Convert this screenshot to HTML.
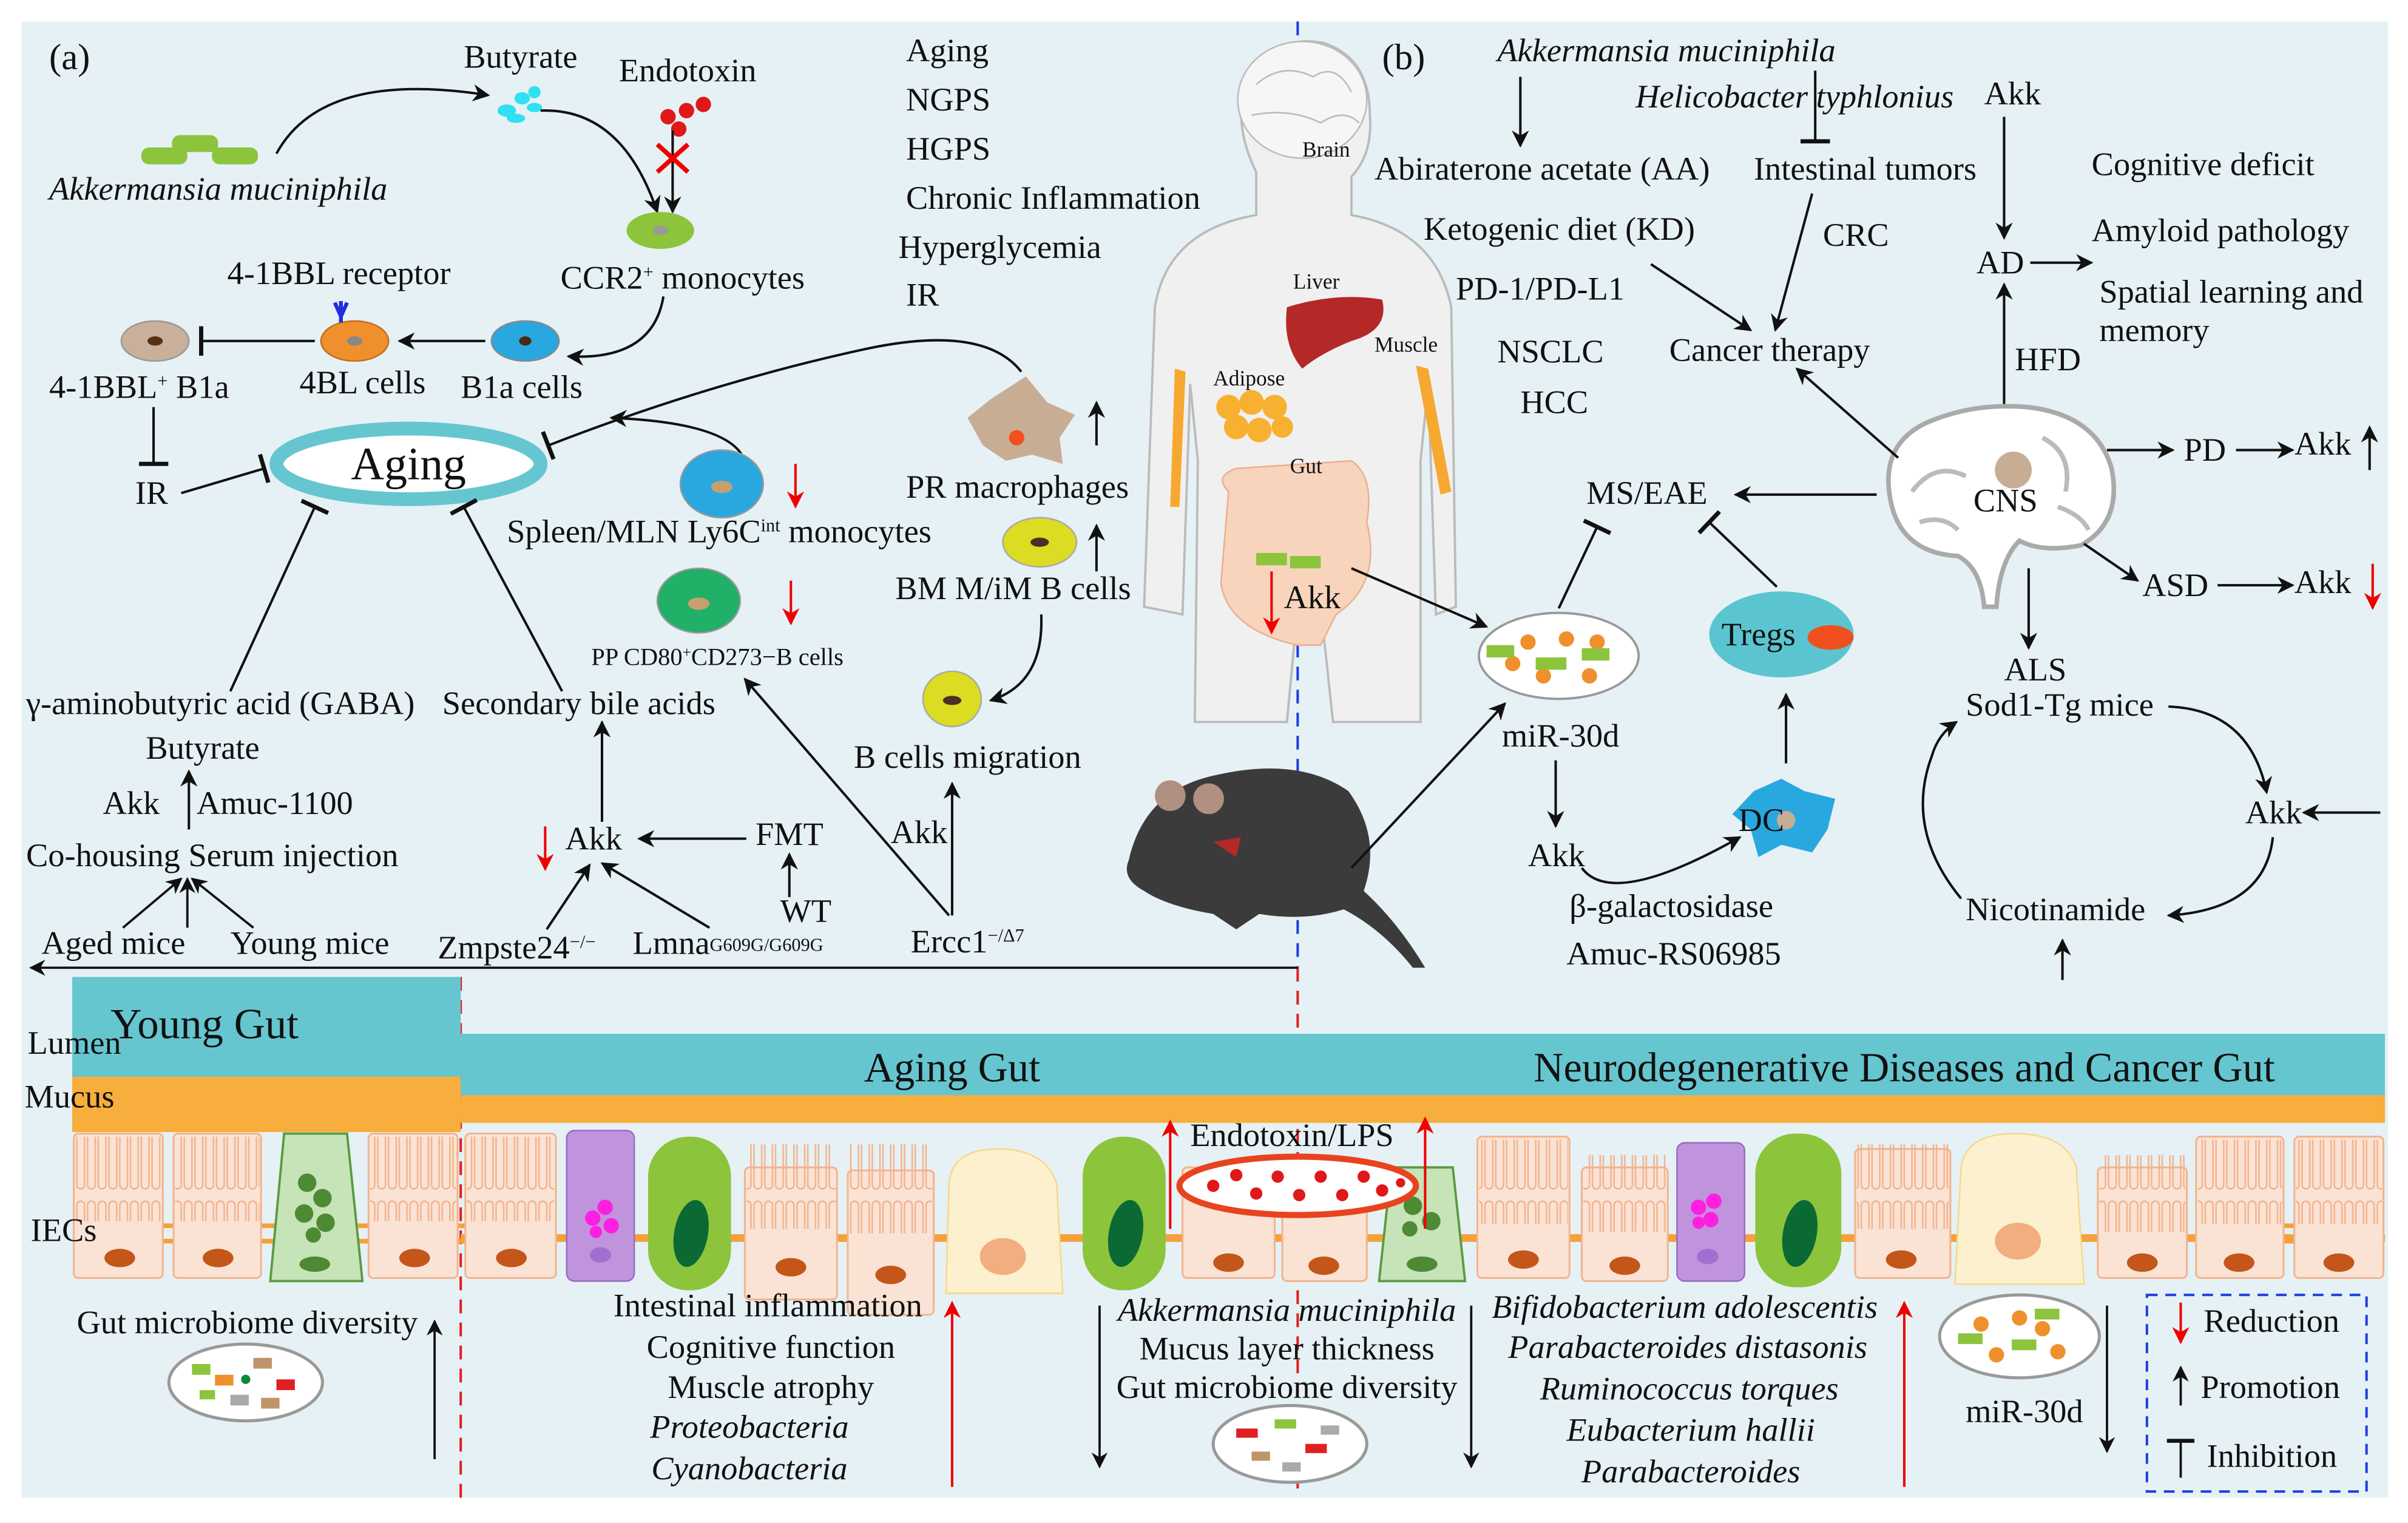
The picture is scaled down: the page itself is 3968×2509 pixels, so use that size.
<!DOCTYPE html>
<html><head><meta charset="utf-8"><style>
html,body{margin:0;padding:0;background:#fff;}
svg{display:block;}
text{font-family:"Liberation Serif",serif;font-size:21.5px;fill:#111;}
.i{font-style:italic;}
</style></head><body>
<svg width="3968" height="2509" viewBox="0 0 1568 991.5" preserveAspectRatio="none" xmlns="http://www.w3.org/2000/svg">
<defs>
<marker id="a" viewBox="0 0 10 10" refX="9" refY="5" markerWidth="7" markerHeight="7" orient="auto-start-reverse"><path d="M0,0 L10,5 L0,10 L3,5z" fill="#111"/></marker>
<marker id="r" viewBox="0 0 10 10" refX="9" refY="5" markerWidth="7" markerHeight="7" orient="auto"><path d="M0,0 L10,5 L0,10 L3,5z" fill="#e00"/></marker>
<marker id="t" viewBox="0 0 4 14" refX="2" refY="7" markerWidth="4" markerHeight="12" orient="auto"><path d="M2,0 L2,14" stroke="#111" stroke-width="2"/></marker>
<pattern id="mv" width="7" height="60" patternUnits="userSpaceOnUse"><rect x="1" y="2" width="5" height="52" rx="2.5" fill="none" stroke="#f2b48e" stroke-width="1"/></pattern>
</defs>
<rect x="14" y="14" width="1541" height="961" fill="#e6f1f5"/>

<line x1="845" y1="14" x2="845" y2="630" stroke="#1f3de0" stroke-width="1.6" stroke-dasharray="9,6"/>
<line x1="845" y1="630" x2="845" y2="975" stroke="#e02020" stroke-width="1.6" stroke-dasharray="9,6"/>
<line x1="300" y1="636" x2="300" y2="975" stroke="#e02020" stroke-width="1.6" stroke-dasharray="9,6"/>
<line x1="845" y1="630" x2="20" y2="630" stroke="#111" stroke-width="1.5" marker-end="url(#a)"/>

<rect x="47" y="636" width="253" height="66" fill="#66c6d0"/>
<rect x="47" y="701" width="253" height="36" fill="#f8ae3c"/>
<rect x="300" y="673" width="1253" height="41" fill="#66c6d0"/>
<rect x="300" y="713" width="1253" height="18" fill="#f8ae3c"/>

<line x1="300" y1="806" x2="1553" y2="806" stroke="#f5a03a" stroke-width="5"/>
<g stroke="#f5a03a" stroke-width="3">
<line x1="104" y1="798" x2="118" y2="798"/><line x1="104" y1="808" x2="118" y2="808"/>
<line x1="166" y1="798" x2="180" y2="798"/><line x1="166" y1="808" x2="180" y2="808"/>
<line x1="230" y1="798" x2="244" y2="798"/><line x1="230" y1="808" x2="244" y2="808"/>
<line x1="292" y1="798" x2="306" y2="798"/><line x1="292" y1="808" x2="306" y2="808"/>
<line x1="1482" y1="798" x2="1500" y2="798"/><line x1="1482" y1="808" x2="1500" y2="808"/>
</g>

<g fill="#fae3d5" stroke="#f2b48e" stroke-width="1.2">
<rect x="48" y="738" width="58" height="94" rx="3"/><rect x="113" y="738" width="57" height="94" rx="3"/>
<rect x="240" y="738" width="58" height="94" rx="3"/><rect x="303" y="738" width="59" height="94" rx="3"/>
<rect x="485" y="760" width="60" height="86" rx="3"/><rect x="552" y="762" width="56" height="94" rx="3"/>
<rect x="770" y="760" width="60" height="72" rx="3"/><rect x="835" y="760" width="55" height="74" rx="3"/>
<rect x="962" y="740" width="60" height="92" rx="3"/><rect x="1030" y="760" width="56" height="74" rx="3"/>
<rect x="1208" y="748" width="62" height="84" rx="3"/><rect x="1366" y="760" width="58" height="72" rx="3"/>
<rect x="1430" y="740" width="57" height="92" rx="3"/><rect x="1494" y="740" width="58" height="92" rx="3"/>
</g>
<g fill="url(#mv)">
<rect x="49" y="740" width="56" height="55"/><rect x="114" y="740" width="55" height="55"/>
<rect x="241" y="740" width="56" height="55"/><rect x="304" y="740" width="57" height="55"/>
<rect x="486" y="745" width="58" height="55"/><rect x="553" y="745" width="54" height="58"/>
<rect x="963" y="742" width="58" height="55"/><rect x="1031" y="752" width="54" height="50"/>
<rect x="1209" y="745" width="60" height="55"/><rect x="1367" y="752" width="56" height="50"/>
<rect x="1431" y="742" width="55" height="55"/><rect x="1495" y="742" width="56" height="55"/>
</g>
<g fill="#c4561a">
<ellipse cx="78" cy="819" rx="10" ry="6"/><ellipse cx="142" cy="819" rx="10" ry="6"/>
<ellipse cx="270" cy="819" rx="10" ry="6"/><ellipse cx="333" cy="819" rx="10" ry="6"/>
<ellipse cx="515" cy="825" rx="10" ry="6"/><ellipse cx="580" cy="830" rx="10" ry="6"/>
<ellipse cx="800" cy="822" rx="10" ry="6"/><ellipse cx="862" cy="824" rx="10" ry="6"/>
<ellipse cx="992" cy="820" rx="10" ry="6"/><ellipse cx="1058" cy="824" rx="10" ry="6"/>
<ellipse cx="1238" cy="820" rx="10" ry="6"/><ellipse cx="1395" cy="822" rx="10" ry="6"/>
<ellipse cx="1458" cy="822" rx="10" ry="6"/><ellipse cx="1523" cy="822" rx="10" ry="6"/>
</g>
<path d="M185,738 L226,738 L236,834 L176,834z" fill="#c7e3b8" stroke="#5a9a40" stroke-width="1.5"/>
<g fill="#4e8a34"><circle cx="200" cy="770" r="6"/><circle cx="210" cy="780" r="6"/><circle cx="198" cy="790" r="6"/><circle cx="212" cy="796" r="6"/><circle cx="204" cy="804" r="5"/><ellipse cx="205" cy="823" rx="10" ry="5"/></g>
<rect x="369" y="736" width="44" height="98" rx="5" fill="#bf94dd" stroke="#9a6cc0"/>
<g fill="#ff1fe0"><circle cx="386" cy="793" r="5"/><circle cx="394" cy="786" r="5"/><circle cx="398" cy="798" r="5"/><circle cx="388" cy="802" r="4"/></g>
<ellipse cx="391" cy="817" rx="7" ry="5" fill="#a070d0"/>
<rect x="422" y="740" width="54" height="100" rx="26" fill="#8cc43c"/>
<ellipse cx="450" cy="803" rx="11" ry="22" fill="#0b6a34" transform="rotate(10 450 803)"/>
<path d="M618,770 Q620,748 650,748 Q680,748 688,770 L692,842 L616,842z" fill="#fdf0cf" stroke="#f5d98a"/>
<ellipse cx="653" cy="818" rx="15" ry="12" fill="#f2ae7f"/>
<rect x="705" y="740" width="54" height="100" rx="26" fill="#8cc43c"/>
<ellipse cx="733" cy="803" rx="11" ry="22" fill="#0b6a34" transform="rotate(10 733 803)"/>
<path d="M906,760 L946,760 L954,834 L898,834z" fill="#c7e3b8" stroke="#5a9a40" stroke-width="1.5"/>
<g fill="#4e8a34"><circle cx="920" cy="785" r="6"/><circle cx="932" cy="795" r="6"/><circle cx="918" cy="800" r="5"/><ellipse cx="926" cy="823" rx="10" ry="5"/></g>
<rect x="1092" y="744" width="44" height="90" rx="5" fill="#bf94dd" stroke="#9a6cc0"/>
<g fill="#ff1fe0"><circle cx="1106" cy="786" r="5"/><circle cx="1116" cy="782" r="5"/><circle cx="1114" cy="794" r="5"/><circle cx="1106" cy="796" r="4"/></g>
<ellipse cx="1112" cy="818" rx="7" ry="5" fill="#a070d0"/>
<rect x="1143" y="738" width="56" height="100" rx="26" fill="#8cc43c"/>
<ellipse cx="1172" cy="803" rx="11" ry="22" fill="#0b6a34" transform="rotate(10 1172 803)"/>
<path d="M1277,760 Q1280,738 1312,738 Q1345,738 1352,760 L1357,836 L1273,836z" fill="#fdf0cf" stroke="#f5d98a"/>
<ellipse cx="1314" cy="808" rx="15" ry="12" fill="#f2ae7f"/>
<ellipse cx="845" cy="772" rx="77" ry="19" fill="#fff" stroke="#e8431e" stroke-width="4"/>
<g fill="#e01818"><circle cx="790" cy="772" r="4"/><circle cx="805" cy="765" r="4"/><circle cx="818" cy="777" r="4"/><circle cx="832" cy="766" r="4"/><circle cx="846" cy="778" r="4"/><circle cx="860" cy="766" r="4"/><circle cx="874" cy="778" r="4"/><circle cx="888" cy="766" r="4"/><circle cx="900" cy="775" r="4"/><circle cx="912" cy="770" r="3"/></g>
<text x="775" y="746">Endotoxin/LPS</text>
<line x1="762" y1="800" x2="762" y2="730" stroke="#e00" stroke-width="1.6" marker-end="url(#r)"/>
<line x1="928" y1="800" x2="928" y2="728" stroke="#e00" stroke-width="1.6" marker-end="url(#r)"/>

<text x="18" y="686">Lumen</text>
<text x="16" y="721">Mucus</text>
<text x="20" y="808">IECs</text>
<text x="72" y="676" style="font-size:28px">Young Gut</text>
<text x="620" y="704" text-anchor="middle" style="font-size:27px">Aging Gut</text>
<text x="1240" y="704" text-anchor="middle" style="font-size:27px">Neurodegenerative Diseases and Cancer Gut</text>

<text x="50" y="868">Gut microbiome diversity</text>
<line x1="283" y1="950" x2="283" y2="860" stroke="#111" stroke-width="1.5" marker-end="url(#a)"/>
<ellipse cx="160" cy="900" rx="50" ry="25" fill="#fff" stroke="#999" stroke-width="2"/>
<g><rect x="125" y="888" width="12" height="7" fill="#8cc43c"/><rect x="140" y="895" width="12" height="7" fill="#f0902c"/><rect x="165" y="884" width="12" height="7" fill="#c0946a"/><rect x="180" y="898" width="12" height="7" fill="#e02020"/><rect x="150" y="908" width="12" height="7" fill="#aaa"/><rect x="130" y="905" width="10" height="6" fill="#8cc43c"/><rect x="170" y="910" width="12" height="7" fill="#c0946a"/><circle cx="160" cy="898" r="3" fill="#0a8a3a"/></g>

<g text-anchor="middle">
<text x="500" y="857">Intestinal inflammation</text>
<text x="502" y="884">Cognitive function</text>
<text x="502" y="910">Muscle atrophy</text>
<text x="488" y="936" class="i">Proteobacteria</text>
<text x="488" y="963" class="i">Cyanobacteria</text>
<text x="838" y="860" class="i">Akkermansia muciniphila</text>
<text x="838" y="885">Mucus layer thickness</text>
<text x="838" y="910">Gut microbiome diversity</text>
<text x="1097" y="858" class="i">Bifidobacterium adolescentis</text>
<text x="1099" y="884" class="i">Parabacteroides distasonis</text>
<text x="1100" y="911" class="i">Ruminococcus torques</text>
<text x="1101" y="938" class="i">Eubacterium hallii</text>
<text x="1101" y="965" class="i">Parabacteroides</text>
</g>
<line x1="620" y1="968" x2="620" y2="848" stroke="#e00" stroke-width="1.6" marker-end="url(#r)"/>
<line x1="716" y1="850" x2="716" y2="955" stroke="#111" stroke-width="1.5" marker-end="url(#a)"/>
<line x1="958" y1="850" x2="958" y2="955" stroke="#111" stroke-width="1.5" marker-end="url(#a)"/>
<line x1="1240" y1="968" x2="1240" y2="848" stroke="#e00" stroke-width="1.6" marker-end="url(#r)"/>
<ellipse cx="840" cy="940" rx="50" ry="25" fill="#fff" stroke="#999" stroke-width="2"/>
<g><rect x="805" y="930" width="14" height="6" fill="#e02020"/><rect x="830" y="924" width="14" height="6" fill="#8cc43c"/><rect x="850" y="940" width="14" height="6" fill="#e02020"/><rect x="815" y="945" width="12" height="6" fill="#c0946a"/><rect x="860" y="928" width="12" height="6" fill="#aaa"/><rect x="835" y="952" width="12" height="6" fill="#aaa"/></g>
<ellipse cx="1315" cy="870" rx="52" ry="27" fill="#fff" stroke="#999" stroke-width="2"/>
<g fill="#f0902c"><circle cx="1290" cy="862" r="5"/><circle cx="1315" cy="858" r="5"/><circle cx="1330" cy="865" r="5"/><circle cx="1300" cy="882" r="5"/><circle cx="1340" cy="880" r="5"/></g>
<g fill="#8cc43c"><rect x="1275" y="868" width="16" height="7"/><rect x="1310" y="872" width="16" height="7"/><rect x="1325" y="852" width="16" height="7"/></g>
<text x="1280" y="926">miR-30d</text>
<line x1="1372" y1="850" x2="1372" y2="945" stroke="#111" stroke-width="1.5" marker-end="url(#a)"/>
<rect x="1398" y="843" width="143" height="128" fill="none" stroke="#1f3de0" stroke-width="1.6" stroke-dasharray="7,5"/>
<line x1="1420" y1="848" x2="1420" y2="874" stroke="#e00" stroke-width="1.6" marker-end="url(#r)"/>
<text x="1435" y="867">Reduction</text>
<line x1="1420" y1="915" x2="1420" y2="890" stroke="#111" stroke-width="1.5" marker-end="url(#a)"/>
<text x="1433" y="910">Promotion</text>
<line x1="1420" y1="962" x2="1420" y2="938" stroke="#111" stroke-width="1.5" marker-end="url(#t)"/>
<text x="1437" y="955">Inhibition</text>

<!-- (a) -->
<text x="32" y="45" style="font-size:24px">(a)</text>
<g fill="#8cc43c"><rect x="92" y="96" width="30" height="11" rx="5"/><rect x="112" y="88" width="30" height="11" rx="5"/><rect x="138" y="96" width="30" height="11" rx="5"/></g>
<text x="32" y="130" class="i">Akkermansia muciniphila</text>
<path d="M180,100 Q210,45 318,62" fill="none" stroke="#111" stroke-width="1.6" marker-end="url(#a)"/>
<text x="302" y="44">Butyrate</text>
<g fill="#2fe0f0"><ellipse cx="330" cy="72" rx="6" ry="4"/><ellipse cx="340" cy="64" rx="5" ry="4"/><ellipse cx="348" cy="60" rx="4" ry="4"/><ellipse cx="336" cy="77" rx="6" ry="3"/><ellipse cx="348" cy="70" rx="5" ry="3"/></g>
<text x="403" y="53">Endotoxin</text>
<g fill="#e01818"><circle cx="435" cy="76" r="5"/><circle cx="447" cy="72" r="5"/><circle cx="458" cy="68" r="5"/><circle cx="442" cy="84" r="5"/></g>
<path d="M352,72 Q405,70 428,138" fill="none" stroke="#111" stroke-width="1.6" marker-end="url(#a)"/>
<line x1="438" y1="85" x2="438" y2="138" stroke="#111" stroke-width="1.6" marker-end="url(#a)"/>
<path d="M428,94 L448,112 M448,94 L428,112" stroke="#e00" stroke-width="3"/>
<ellipse cx="430" cy="150" rx="22" ry="12" fill="#8cc43c"/><ellipse cx="430" cy="150" rx="5" ry="3" fill="#999"/>
<text x="365" y="188">CCR2<tspan dy="-7" style="font-size:12px">+</tspan><tspan dy="7"> monocytes</tspan></text>
<path d="M432,193 Q425,235 370,232" fill="none" stroke="#111" stroke-width="1.6" marker-end="url(#a)"/>
<ellipse cx="342" cy="222" rx="22" ry="13" fill="#29a8e0" stroke="#888"/><ellipse cx="342" cy="222" rx="4" ry="3" fill="#4a2a10"/>
<text x="300" y="259">B1a cells</text>
<line x1="316" y1="222" x2="260" y2="222" stroke="#111" stroke-width="1.6" marker-end="url(#a)"/>
<ellipse cx="231" cy="222" rx="22" ry="13" fill="#f0902c" stroke="#c07020"/><ellipse cx="231" cy="222" rx="5" ry="3" fill="#888"/>
<path d="M222,196 L222,210 M218,197 L222,206 L226,197" stroke="#1f2ee0" stroke-width="2.5" fill="none"/>
<text x="148" y="185">4-1BBL receptor</text>
<text x="195" y="256">4BL cells</text>
<line x1="205" y1="222" x2="131" y2="222" stroke="#111" stroke-width="1.6" marker-end="url(#t)"/>
<ellipse cx="101" cy="222" rx="22" ry="13" fill="#c8b09a" stroke="#999"/><ellipse cx="101" cy="222" rx="5" ry="3" fill="#5a3010"/>
<text x="32" y="259">4-1BBL<tspan dy="-7" style="font-size:12px">+</tspan><tspan dy="7"> B1a</tspan></text>
<line x1="100" y1="265" x2="100" y2="302" stroke="#111" stroke-width="1.6" marker-end="url(#t)"/>
<text x="88" y="328">IR</text>
<line x1="118" y1="321" x2="172" y2="305" stroke="#111" stroke-width="1.6" marker-end="url(#t)"/>
<ellipse cx="266" cy="302" rx="86" ry="23" fill="#fff" stroke="#66c6d0" stroke-width="9"/>
<text x="266" y="312" text-anchor="middle" style="font-size:30px">Aging</text>
<path d="M665,242 Q640,210 560,228 Q460,250 357,290" fill="none" stroke="#111" stroke-width="1.6" marker-end="url(#t)"/>
<path d="M483,296 Q470,275 398,272" fill="none" stroke="#111" stroke-width="1.6" marker-end="url(#a)"/>
<ellipse cx="470" cy="315" rx="27" ry="22" fill="#29a8e0" stroke="#999"/><ellipse cx="470" cy="317" rx="7" ry="4" fill="#c8a070"/>
<line x1="518" y1="302" x2="518" y2="330" stroke="#e00" stroke-width="1.6" marker-end="url(#r)"/>
<text x="330" y="353">Spleen/MLN Ly6C<tspan dy="-7" style="font-size:12px">int</tspan><tspan dy="7"> monocytes</tspan></text>
<ellipse cx="455" cy="391" rx="27" ry="21" fill="#20b068" stroke="#999"/><ellipse cx="455" cy="393" rx="7" ry="4" fill="#c8a070"/>
<line x1="515" y1="378" x2="515" y2="406" stroke="#e00" stroke-width="1.6" marker-end="url(#r)"/>
<text x="385" y="433" style="font-size:16px">PP CD80<tspan dy="-5" style="font-size:10px">+</tspan><tspan dy="5">CD273−B cells</tspan></text>
<path d="M668,245 L682,262 L700,270 L690,285 L692,302 L672,296 L655,300 L640,290 L630,272 L645,260z" fill="#c8ad95"/>
<circle cx="662" cy="285" r="5" fill="#f05020"/>
<line x1="714" y1="290" x2="714" y2="262" stroke="#111" stroke-width="1.6" marker-end="url(#a)"/>
<text x="590" y="324">PR macrophages</text>
<ellipse cx="677" cy="353" rx="24" ry="16" fill="#dcdc22" stroke="#aaa"/><ellipse cx="677" cy="353" rx="6" ry="3" fill="#4a3020"/>
<line x1="714" y1="372" x2="714" y2="342" stroke="#111" stroke-width="1.6" marker-end="url(#a)"/>
<text x="583" y="390">BM M/iM B cells</text>
<path d="M678,400 Q680,445 645,456" fill="none" stroke="#111" stroke-width="1.6" marker-end="url(#a)"/>
<ellipse cx="620" cy="455" rx="19" ry="18" fill="#dcdc22" stroke="#aaa"/><ellipse cx="620" cy="456" rx="6" ry="3" fill="#4a3020"/>
<text x="556" y="500">B cells migration</text>
<line x1="620" y1="596" x2="620" y2="510" stroke="#111" stroke-width="1.6" marker-end="url(#a)"/>
<line x1="618" y1="596" x2="485" y2="442" stroke="#111" stroke-width="1.6" marker-end="url(#a)"/>
<text x="580" y="549">Akk</text>
<text x="593" y="620">Ercc1<tspan dy="-7" style="font-size:12px">−/Δ7</tspan></text>
<text x="17" y="465">γ-aminobutyric acid (GABA)</text>
<line x1="150" y1="450" x2="205" y2="330" stroke="#111" stroke-width="1.6" marker-end="url(#t)"/>
<text x="288" y="465">Secondary bile acids</text>
<line x1="366" y1="450" x2="302" y2="330" stroke="#111" stroke-width="1.6" marker-end="url(#t)"/>
<text x="95" y="494">Butyrate</text>
<line x1="123" y1="540" x2="123" y2="502" stroke="#111" stroke-width="1.6" marker-end="url(#a)"/>
<text x="67" y="530">Akk</text>
<text x="128" y="530">Amuc-1100</text>
<text x="17" y="564">Co-housing Serum injection</text>
<line x1="80" y1="604" x2="118" y2="572" stroke="#111" stroke-width="1.5" marker-end="url(#a)"/>
<line x1="165" y1="604" x2="125" y2="572" stroke="#111" stroke-width="1.5" marker-end="url(#a)"/>
<line x1="122" y1="604" x2="122" y2="572" stroke="#111" stroke-width="1.5" marker-end="url(#a)"/>
<text x="27" y="621">Aged mice</text>
<text x="150" y="621">Young mice</text>
<text x="368" y="553">Akk</text>
<line x1="355" y1="538" x2="355" y2="566" stroke="#e00" stroke-width="1.6" marker-end="url(#r)"/>
<line x1="392" y1="535" x2="392" y2="470" stroke="#111" stroke-width="1.6" marker-end="url(#a)"/>
<text x="492" y="550">FMT</text>
<line x1="486" y1="546" x2="416" y2="546" stroke="#111" stroke-width="1.6" marker-end="url(#a)"/>
<text x="508" y="600">WT</text>
<line x1="514" y1="584" x2="514" y2="556" stroke="#111" stroke-width="1.6" marker-end="url(#a)"/>
<line x1="356" y1="605" x2="384" y2="563" stroke="#111" stroke-width="1.6" marker-end="url(#a)"/>
<line x1="462" y1="604" x2="392" y2="562" stroke="#111" stroke-width="1.6" marker-end="url(#a)"/>
<text x="285" y="624">Zmpste24<tspan dy="-7" style="font-size:12px">−/−</tspan></text>
<text x="412" y="621">Lmna<tspan dy="-2" style="font-size:12px">G609G/G609G</tspan></text>
<text x="590" y="40">Aging</text>
<text x="590" y="72">NGPS</text>
<text x="590" y="104">HGPS</text>
<text x="590" y="136">Chronic Inflammation</text>
<text x="585" y="168">Hyperglycemia</text>
<text x="590" y="199">IR</text>

<!-- body -->
<path d="M818,112 Q802,80 812,48 Q832,22 862,28 Q892,38 892,75 Q894,100 880,115 L880,140 Q935,150 945,200 L948,395 L935,400 L930,250 L925,300 L925,470 L868,470 L860,395 L845,395 L838,470 L778,470 L780,300 L775,250 L770,400 L745,395 L752,200 Q760,150 818,140z" fill="#f0f0f0" stroke="#bbb" stroke-width="1.5"/>
<ellipse cx="848" cy="65" rx="42" ry="38" fill="#f6f6f6" stroke="#bbb"/>
<path d="M818,55 Q835,40 855,50 Q870,40 880,60 M815,75 Q840,70 860,80 Q875,70 885,80" fill="none" stroke="#bbb"/>
<text x="848" y="102" style="font-size:14px">Brain</text>
<text x="842" y="188" style="font-size:14px">Liver</text>
<path d="M838,200 Q870,190 900,195 Q905,215 880,222 Q860,230 848,240 Q835,225 838,200z" fill="#b42828"/>
<text x="895" y="229" style="font-size:14px">Muscle</text>
<text x="790" y="251" style="font-size:14px">Adipose</text>
<g fill="#f7b030"><circle cx="800" cy="265" r="8"/><circle cx="815" cy="262" r="8"/><circle cx="830" cy="265" r="8"/><circle cx="805" cy="278" r="8"/><circle cx="820" cy="280" r="8"/><circle cx="835" cy="278" r="7"/></g>
<path d="M765,240 L772,242 L768,330 L762,330z" fill="#f7a830"/>
<path d="M922,238 L930,240 L945,320 L938,322z" fill="#f7a830"/>
<path d="M800,320 Q790,310 805,305 L880,300 Q895,310 890,340 Q900,380 870,400 L860,420 L845,420 Q800,410 795,380z" fill="#f8d4bc" stroke="#eab090"/>
<text x="840" y="308" style="font-size:14px">Gut</text>
<g fill="#8cc43c"><rect x="818" y="360" width="20" height="8"/><rect x="840" y="362" width="20" height="8"/></g>
<text x="836" y="396">Akk</text>
<line x1="828" y1="372" x2="828" y2="412" stroke="#e00" stroke-width="1.6" marker-end="url(#r)"/>
<line x1="880" y1="370" x2="968" y2="408" stroke="#111" stroke-width="1.6" marker-end="url(#a)"/>
<!-- mouse -->
<path d="M735,560 Q745,515 790,505 Q845,492 878,515 Q900,545 888,580 Q910,600 928,630 L920,630 Q900,605 875,592 Q850,600 820,595 L805,605 L790,595 Q760,590 745,580 Q730,572 735,560z" fill="#3b3b3b"/>
<circle cx="762" cy="518" r="10" fill="#b09080"/><circle cx="787" cy="520" r="10" fill="#b09080"/>
<path d="M790,548 L808,545 L805,558z" fill="#b42828"/>
<line x1="880" y1="565" x2="980" y2="458" stroke="#111" stroke-width="1.6" marker-end="url(#a)"/>

<!-- (b) -->
<text x="900" y="45" style="font-size:24px">(b)</text>
<text x="975" y="40" class="i">Akkermansia muciniphila</text>
<line x1="990" y1="50" x2="990" y2="95" stroke="#111" stroke-width="1.6" marker-end="url(#a)"/>
<text x="1065" y="70" class="i">Helicobacter typhlonius</text>
<line x1="1182" y1="46" x2="1182" y2="92" stroke="#111" stroke-width="1.6" marker-end="url(#t)"/>
<text x="895" y="117">Abiraterone acetate (AA)</text>
<text x="1142" y="117">Intestinal tumors</text>
<text x="1292" y="68">Akk</text>
<line x1="1305" y1="76" x2="1305" y2="155" stroke="#111" stroke-width="1.6" marker-end="url(#a)"/>
<text x="1287" y="178">AD</text>
<line x1="1322" y1="171" x2="1362" y2="171" stroke="#111" stroke-width="1.6" marker-end="url(#a)"/>
<text x="1362" y="114">Cognitive deficit</text>
<text x="1362" y="157">Amyloid pathology</text>
<text x="1367" y="197">Spatial learning and</text>
<text x="1367" y="222">memory</text>
<text x="927" y="156">Ketogenic diet (KD)</text>
<text x="1187" y="160">CRC</text>
<text x="948" y="195">PD-1/PD-L1</text>
<text x="975" y="236">NSCLC</text>
<text x="990" y="269">HCC</text>
<text x="1087" y="235">Cancer therapy</text>
<line x1="1075" y1="172" x2="1140" y2="215" stroke="#111" stroke-width="1.6" marker-end="url(#a)"/>
<line x1="1180" y1="126" x2="1156" y2="215" stroke="#111" stroke-width="1.6" marker-end="url(#a)"/>
<text x="1312" y="241">HFD</text>
<line x1="1305" y1="268" x2="1305" y2="185" stroke="#111" stroke-width="1.6" marker-end="url(#a)"/>
<path d="M1232,330 Q1222,290 1255,275 Q1285,262 1320,265 Q1365,270 1375,305 Q1382,340 1355,355 Q1330,360 1315,352 Q1302,365 1300,395 L1292,395 Q1290,370 1275,362 Q1240,360 1232,330z" fill="#fff" stroke="#aaa" stroke-width="3"/>
<path d="M1245,320 Q1260,300 1280,310 M1330,285 Q1350,295 1345,320 M1250,340 Q1265,335 1275,345 M1340,330 Q1355,335 1360,345" fill="none" stroke="#bbb" stroke-width="3"/>
<circle cx="1311" cy="306" r="12" fill="#c8ad95"/>
<text x="1285" y="333">CNS</text>
<line x1="1236" y1="298" x2="1170" y2="240" stroke="#111" stroke-width="1.6" marker-end="url(#a)"/>
<line x1="1222" y1="322" x2="1130" y2="322" stroke="#111" stroke-width="1.6" marker-end="url(#a)"/>
<text x="1033" y="328">MS/EAE</text>
<line x1="1372" y1="293" x2="1415" y2="293" stroke="#111" stroke-width="1.6" marker-end="url(#a)"/>
<text x="1422" y="300">PD</text>
<line x1="1456" y1="293" x2="1493" y2="293" stroke="#111" stroke-width="1.6" marker-end="url(#a)"/>
<text x="1494" y="296">Akk</text>
<line x1="1543" y1="306" x2="1543" y2="278" stroke="#111" stroke-width="1.6" marker-end="url(#a)"/>
<line x1="1357" y1="354" x2="1392" y2="378" stroke="#111" stroke-width="1.6" marker-end="url(#a)"/>
<text x="1395" y="388">ASD</text>
<line x1="1444" y1="381" x2="1493" y2="381" stroke="#111" stroke-width="1.6" marker-end="url(#a)"/>
<text x="1494" y="386">Akk</text>
<line x1="1545" y1="367" x2="1545" y2="396" stroke="#e00" stroke-width="1.6" marker-end="url(#r)"/>
<line x1="1321" y1="370" x2="1321" y2="422" stroke="#111" stroke-width="1.6" marker-end="url(#a)"/>
<text x="1305" y="443">ALS</text>
<text x="1280" y="466">Sod1-Tg mice</text>
<path d="M1412,460 Q1465,462 1476,516" fill="none" stroke="#111" stroke-width="1.6" marker-end="url(#a)"/>
<text x="1462" y="536">Akk</text>
<line x1="1550" y1="529" x2="1500" y2="529" stroke="#111" stroke-width="1.6" marker-end="url(#a)"/>
<path d="M1480,545 Q1475,592 1412,596" fill="none" stroke="#111" stroke-width="1.6" marker-end="url(#a)"/>
<text x="1280" y="599">Nicotinamide</text>
<line x1="1343" y1="638" x2="1343" y2="612" stroke="#111" stroke-width="1.6" marker-end="url(#a)"/>
<path d="M1277,585 Q1240,540 1258,492 Q1262,478 1274,470" fill="none" stroke="#111" stroke-width="1.6" marker-end="url(#a)"/>
<line x1="1015" y1="396" x2="1040" y2="343" stroke="#111" stroke-width="1.6" marker-end="url(#t)"/>
<line x1="1157" y1="382" x2="1113" y2="340" stroke="#111" stroke-width="1.6" marker-end="url(#t)"/>
<ellipse cx="1015" cy="427" rx="52" ry="28" fill="#fff" stroke="#999" stroke-width="1.5"/>
<g fill="#f0902c"><circle cx="995" cy="418" r="5"/><circle cx="1020" cy="416" r="5"/><circle cx="1040" cy="418" r="5"/><circle cx="985" cy="432" r="5"/><circle cx="1005" cy="440" r="5"/><circle cx="1035" cy="440" r="5"/></g>
<g fill="#8cc43c"><rect x="968" y="420" width="18" height="8"/><rect x="1000" y="428" width="20" height="8"/><rect x="1030" y="422" width="18" height="8"/></g>
<text x="978" y="486">miR-30d</text>
<line x1="1013" y1="495" x2="1013" y2="538" stroke="#111" stroke-width="1.6" marker-end="url(#a)"/>
<text x="995" y="564">Akk</text>
<path d="M1030,565 Q1050,592 1133,545" fill="none" stroke="#111" stroke-width="1.6" marker-end="url(#a)"/>
<path d="M1160,507 L1175,515 L1195,520 L1190,540 L1180,555 L1160,550 L1145,558 L1140,540 L1128,530 L1142,515z" fill="#29a8e0"/>
<circle cx="1163" cy="534" r="6" fill="#c8ad95"/>
<text x="1132" y="541">DC</text>
<line x1="1163" y1="497" x2="1163" y2="452" stroke="#111" stroke-width="1.6" marker-end="url(#a)"/>
<ellipse cx="1160" cy="413" rx="47" ry="28" fill="#5ac5d0"/>
<ellipse cx="1192" cy="415" rx="15" ry="8" fill="#f05020"/>
<text x="1121" y="420">Tregs</text>
<text x="1022" y="597">β-galactosidase</text>
<text x="1020" y="628">Amuc-RS06985</text>
</svg>
</body></html>
